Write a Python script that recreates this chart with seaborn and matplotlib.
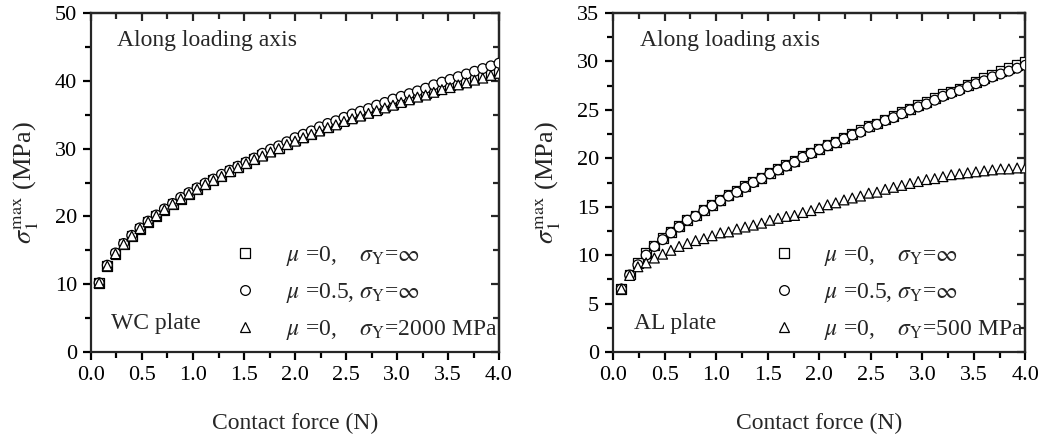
import matplotlib
matplotlib.use("Agg")
import matplotlib.pyplot as plt
import numpy as np
import pandas as pd
import seaborn as sns
from matplotlib.lines import Line2D
from matplotlib.ticker import MultipleLocator, FormatStrFormatter

sns.set_style("ticks")
plt.rcParams['font.family'] = ['Liberation Serif', 'DejaVu Serif']
plt.rcParams['mathtext.fontset'] = 'stix'

# contact force (N), 50 equally spaced samples
force = np.linspace(0.08, 4.0, 50)

# WC plate
wc_mu0 = [10.2, 12.7, 14.5, 15.9, 17.1, 18.2, 19.2, 20.1, 21.0, 21.8,
          22.6, 23.3, 24.0, 24.7, 25.4, 26.0, 26.7, 27.3, 27.9, 28.5,
          29.0, 29.6, 30.1, 30.7, 31.2, 31.7, 32.2, 32.7, 33.2, 33.7,
          34.2, 34.6, 35.0, 35.4, 35.8, 36.2, 36.6, 37.0, 37.4, 37.8,
          38.2, 38.6, 39.0, 39.3, 39.7, 40.0, 40.4, 40.8, 41.1, 41.5]
wc_mu05 = [10.2, 12.8, 14.6, 16.0, 17.2, 18.3, 19.3, 20.2, 21.1, 21.9,
           22.8, 23.5, 24.2, 24.9, 25.5, 26.2, 26.8, 27.4, 28.0, 28.6,
           29.3, 29.9, 30.4, 31.0, 31.6, 32.1, 32.6, 33.2, 33.7, 34.1,
           34.6, 35.1, 35.5, 35.9, 36.4, 36.8, 37.3, 37.7, 38.1, 38.5,
           38.9, 39.4, 39.8, 40.2, 40.6, 41.0, 41.4, 41.8, 42.2, 42.6]
wc_yield = [10.2, 12.7, 14.5, 15.9, 17.1, 18.2, 19.2, 20.1, 21.0, 21.8,
            22.6, 23.3, 24.0, 24.7, 25.3, 25.9, 26.6, 27.2, 27.8, 28.4,
            28.9, 29.5, 30.0, 30.6, 31.1, 31.6, 32.1, 32.6, 33.1, 33.5,
            34.0, 34.4, 34.8, 35.2, 35.6, 36.0, 36.4, 36.8, 37.2, 37.6,
            37.9, 38.3, 38.7, 39.0, 39.4, 39.7, 40.1, 40.4, 40.8, 41.1]

# AL plate
al_mu0 = [6.5, 8.0, 9.2, 10.2, 11.0, 11.8, 12.4, 13.0, 13.6, 14.1,
          14.7, 15.2, 15.7, 16.2, 16.6, 17.1, 17.6, 18.0, 18.5, 18.9,
          19.3, 19.7, 20.2, 20.6, 21.0, 21.4, 21.7, 22.1, 22.5, 22.9,
          23.3, 23.6, 24.0, 24.4, 24.8, 25.1, 25.5, 25.8, 26.2, 26.6,
          26.9, 27.2, 27.6, 27.9, 28.3, 28.6, 29.0, 29.3, 29.6, 29.9]
al_mu05 = [6.5, 7.95, 9.0, 10.0, 10.9, 11.6, 12.3, 12.9, 13.6, 14.0,
           14.6, 15.1, 15.6, 16.1, 16.5, 17.0, 17.5, 17.9, 18.4, 18.8,
           19.2, 19.6, 20.1, 20.5, 20.9, 21.3, 21.6, 22.0, 22.4, 22.7,
           23.2, 23.5, 23.9, 24.2, 24.6, 25.0, 25.3, 25.6, 26.0, 26.4,
           26.7, 27.0, 27.4, 27.7, 28.0, 28.4, 28.7, 29.0, 29.3, 29.6]
al_yield = [6.5, 7.9, 8.8, 9.2, 9.7, 10.1, 10.5, 10.9, 11.2, 11.5,
            11.7, 12.0, 12.3, 12.4, 12.7, 12.9, 13.1, 13.3, 13.6, 13.8,
            14.0, 14.1, 14.4, 14.6, 14.9, 15.2, 15.4, 15.7, 15.9, 16.1,
            16.4, 16.5, 16.8, 17.0, 17.2, 17.4, 17.6, 17.8, 17.9, 18.1,
            18.3, 18.4, 18.5, 18.6, 18.7, 18.8, 18.9, 18.9, 19.0, 19.0]

series_names = ["mu0", "mu05", "yield"]
markers = {"mu0": "s", "mu05": "o", "yield": "^"}

panels = [
    dict(data=[wc_mu0, wc_mu05, wc_yield], ylim=50, major=10,
         plate="WC plate", sy="2000 MPa"),
    dict(data=[al_mu0, al_mu05, al_yield], ylim=35, major=5,
         plate="AL plate", sy="500 MPa"),
]

fig = plt.figure(figsize=(10.41, 4.41), dpi=100)
axes = [fig.add_axes([0.0874, 0.2018, 0.392, 0.7687]),
        fig.add_axes([0.589, 0.2018, 0.396, 0.7687])]

fs = 16
for ax, p in zip(axes, panels):
    df = pd.concat([pd.DataFrame({"force": force, "stress": v, "case": n})
                    for v, n in zip(p["data"], series_names)])
    sns.scatterplot(data=df, x="force", y="stress", style="case",
                    markers=markers, style_order=series_names,
                    facecolor="white", edgecolor="black", linewidth=0.9,
                    s=50, legend=False, ax=ax, zorder=3)
    ax.set_xlim(0, 4.0)
    ax.set_ylim(0, p["ylim"])
    ax.xaxis.set_major_locator(MultipleLocator(0.5))
    ax.xaxis.set_minor_locator(MultipleLocator(0.25))
    ax.yaxis.set_major_locator(MultipleLocator(p["major"]))
    ax.yaxis.set_minor_locator(MultipleLocator(p["major"] / 2))
    ax.xaxis.set_major_formatter(FormatStrFormatter('%.1f'))
    for s in ax.spines.values():
        s.set_visible(True)
        s.set_linewidth(1.6)
    ax.tick_params(which="both", direction="out", width=1.6, labelsize=fs,
                   colors="black", top=False, right=False)
    ax.tick_params(which="major", length=6, pad=4)
    ax.tick_params(which="minor", length=4)
    # mirrored ticks on top and right, pointing inward
    sec_x = ax.secondary_xaxis("top")
    sec_y = ax.secondary_yaxis("right")
    sec_x.xaxis.set_major_locator(MultipleLocator(0.5))
    sec_x.xaxis.set_minor_locator(MultipleLocator(0.25))
    sec_y.yaxis.set_major_locator(MultipleLocator(p["major"]))
    sec_y.yaxis.set_minor_locator(MultipleLocator(p["major"] / 2))
    for sec in (sec_x, sec_y):
        sec.tick_params(which="both", direction="in", width=1.6,
                        labelleft=False, labelright=False,
                        labeltop=False, labelbottom=False)
        sec.tick_params(which="major", length=6)
        sec.tick_params(which="minor", length=4)
        for s in sec.spines.values():
            s.set_linewidth(1.6)

    ax.set_xlabel("Contact force (N)", fontsize=fs + 1, labelpad=20)
    ax.set_ylabel(r"$\sigma_1^{\rm max}$ (MPa)", fontsize=fs + 3, labelpad=10)
    ax.text(0.064, 0.92, "Along loading axis", transform=ax.transAxes,
            fontsize=fs + 1, va="center")
    ax.text(0.05, 0.085, p["plate"], transform=ax.transAxes,
            fontsize=fs + 1, va="center")

    handles = [Line2D([], [], marker=m, ls="none", mfc="white", mec="black",
                      mew=0.9, ms=7) for m in ("s", "o", "^")]
    labels = [r"$\mu$ =0,    $\sigma_{\rm Y}$=$\infty$",
              r"$\mu$ =0.5, $\sigma_{\rm Y}$=$\infty$",
              r"$\mu$ =0,    $\sigma_{\rm Y}$=" + p["sy"]]
    ax.legend(handles, labels, loc="lower right", frameon=False,
              fontsize=fs + 1, handlelength=1.0, handletextpad=1.2,
              labelspacing=0.55, borderpad=0.0, borderaxespad=0.0,
              bbox_to_anchor=(0.995, 0.03))

fig.savefig("out.png", dpi=100)
